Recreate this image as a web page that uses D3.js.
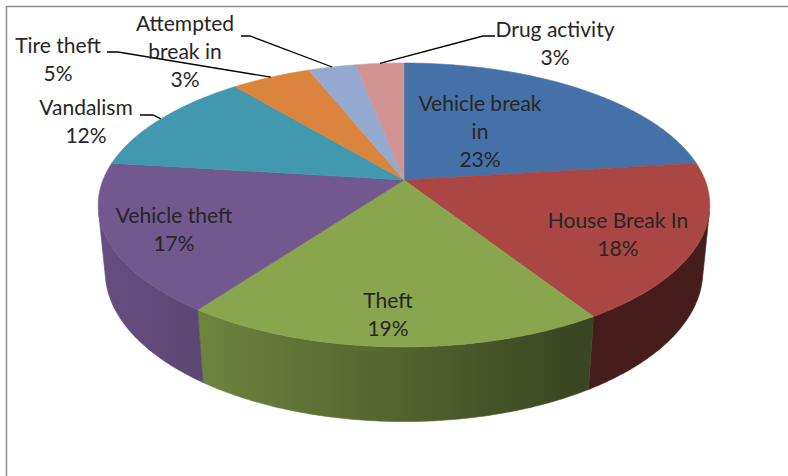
<!DOCTYPE html>
<html>
<head>
<meta charset="utf-8">
<script src="https://cdn.jsdelivr.net/npm/d3@7"></script>
<style>
  html, body { margin: 0; padding: 0; background: #fff; }
  svg { display: block; }
  text { font-family: Lato, "Noto Sans", sans-serif; fill: #262626; }
</style>
</head>
<body>
<svg id="chart" width="788" height="476"></svg>
<script>
// Incident categories and their share of all reports (percent)
const categories = ["Vehicle break in", "House Break In", "Theft", "Vehicle theft",
                    "Vandalism", "Tire theft", "Attempted break in", "Drug activity"];
const shares = [23, 18, 19, 17, 12, 5, 3, 3];
const sliceColors = ["#4671a8", "#aa4643", "#89a54e", "#71588f",
                     "#4198af", "#db843d", "#93a9cf", "#d19392"];
// how each category name is broken over lines in its label
const nameLines = [["Vehicle break", "in"], ["House Break In"], ["Theft"], ["Vehicle theft"],
                   ["Vandalism"], ["Tire theft"], ["Attempted", "break in"], ["Drug activity"]];

// label placement: centre x, first baseline, and for outside labels the leader bend + end
const labelPlacement = [
  { x: 480, y: 111 },
  { x: 618, y: 228 },
  { x: 388, y: 308 },
  { x: 174, y: 223 },
  { x: 86,  y: 115, bend: [153, 115], end: [140, 115] },
  { x: 58,  y: 53,  bend: [118, 52],  end: [107, 52] },
  { x: 185, y: 31,  bend: [250, 36],  end: [241, 36] },
  { x: 555, y: 37,  bend: [483, 36],  end: [495, 36] }
];

const svg = d3.select("#chart");
const W = 788, H = 476;

// chart frame (top and left edges visible)
svg.append("path")
  .attr("d", `M6.5,${H} L6.5,6.5 L${W},6.5`)
  .attr("fill", "none").attr("stroke", "#8e8e8e").attr("stroke-width", 1.5);

// ---- perspective projection of a tilted disc ----
const cx = 404, cy = 180;      // screen position of the pie centre
const K = 301;                 // radius scale (px)
const persp = 0.198;           // radius / camera distance
const tilt = Math.asin(0.457);
const sinT = Math.sin(tilt), cosT = Math.cos(tilt);
const thick = 0.25;            // disc thickness relative to the radius

function project(theta, rho, v) {
  const x = rho * Math.sin(theta);
  const w = -rho * Math.cos(theta);
  const zc = 1 - persp * (w * cosT + v * sinT);
  return [cx + K * x / zc, cy + K * (w * sinT - v * cosT) / zc];
}

const pie = d3.pie().sort(null).value(d => d).startAngle(0).endAngle(2 * Math.PI);
const arcs = pie(shares);

// rim is visible where its outward normal faces the camera
const limit = Math.acos(-persp / cosT);
const rimFrom = limit, rimTo = 2 * Math.PI - limit;

const line = d3.line();
const defs = svg.append("defs");

// side shading: lighter on the left, darker to the right
const xShade = d3.scaleLinear().domain([100, 580]).range([0.9, 0.42]).clamp(true);

arcs.forEach((a, i) => {
  const g = defs.append("linearGradient")
    .attr("id", "side" + i).attr("gradientUnits", "userSpaceOnUse")
    .attr("x1", 90).attr("x2", 720).attr("y1", 0).attr("y2", 0);
  const base = d3.rgb(sliceColors[i]);
  d3.range(90, 721, 30).forEach(x => {
    const f = xShade(x);
    g.append("stop")
      .attr("offset", (x - 90) / 630)
      .attr("stop-color", d3.rgb(base.r * f, base.g * f, base.b * f).formatHex());
  });
});

function arcPoints(a0, a1, v) {
  const n = Math.max(2, Math.ceil((a1 - a0) / 0.01));
  return d3.range(n + 1).map(k => project(a0 + (a1 - a0) * k / n, 1, v));
}

// rim (side walls)
const sideLayer = svg.append("g");
arcs.forEach((a, i) => {
  const s = Math.max(a.startAngle, rimFrom), e = Math.min(a.endAngle, rimTo);
  if (e <= s) return;
  const pts = arcPoints(s, e, 0).concat(arcPoints(s, e, -thick).reverse());
  sideLayer.append("path")
    .attr("d", line(pts) + "Z")
    .attr("fill", `url(#side${i})`)
    .attr("stroke", `url(#side${i})`).attr("stroke-width", 0.6);
});

// top faces
const topLayer = svg.append("g");
arcs.forEach((a, i) => {
  const pts = [[cx, cy]].concat(arcPoints(a.startAngle, a.endAngle, 0));
  topLayer.append("path")
    .attr("d", line(pts) + "Z")
    .attr("fill", sliceColors[i])
    .attr("stroke", sliceColors[i]).attr("stroke-width", 0.6);
});

// leader lines for the small slices
const leaderLayer = svg.append("g");
arcs.forEach((a, i) => {
  const p = labelPlacement[i];
  if (!p.bend) return;
  const mid = (a.startAngle + a.endAngle) / 2;
  const start = project(mid, 1, 0);
  leaderLayer.append("path")
    .attr("d", line([start, p.bend, p.end]))
    .attr("fill", "none").attr("stroke", "#000").attr("stroke-width", 1.3);
});

// data labels: category name then percentage
const lineGap = 28;
const labelLayer = svg.append("g").attr("font-size", 21).attr("text-anchor", "middle");
arcs.forEach((a, i) => {
  const p = labelPlacement[i];
  const rows = nameLines[i].concat([shares[i] + "%"]);
  const t = labelLayer.append("text");
  rows.forEach((r, k) => {
    t.append("tspan").attr("x", p.x).attr("y", p.y + k * lineGap).text(r);
  });
});
</script>
</body>
</html>
